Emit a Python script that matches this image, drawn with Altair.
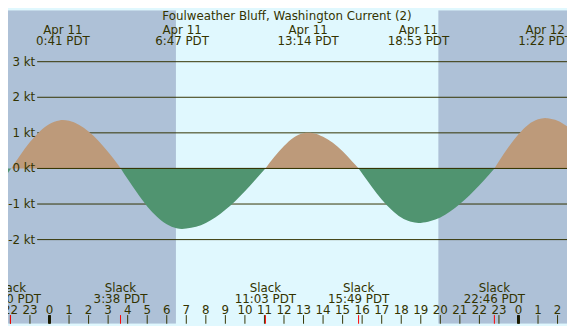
import altair as alt
import pandas as pd

# ---------------- data ----------------
title_text = ["Foulweather Bluff, Washington Current (2)"]

# current speed (kt) at time (hours from Apr 11 00:00 PDT)
hours = [-2.5, -1.96, -1.5, -1, -0.5, 0, 0.5, 0.68, 1, 1.5, 2, 2.5, 3, 3.5, 3.65,
         4, 4.5, 5, 5.5, 6, 6.5, 6.78, 7, 7.5, 8, 8.5, 9, 9.5, 10, 10.5, 11, 11.05,
         11.5, 12, 12.5, 13, 13.23, 13.5, 14, 14.5, 15, 15.5, 15.82,
         16, 16.5, 17, 17.5, 18, 18.5, 18.88, 19, 19.5, 20, 20.5, 21, 21.5, 22, 22.5, 22.77,
         23, 23.5, 24, 24.5, 25, 25.37, 25.5, 26, 26.5, 27]
knots = [-0.40, 0, 0.37, 0.74, 1.04, 1.25, 1.35, 1.36, 1.34, 1.23, 1.04, 0.78, 0.46, 0.11, 0,
         -0.30, -0.70, -1.07, -1.36, -1.57, -1.68, -1.70, -1.69, -1.64, -1.53, -1.37, -1.16, -0.92, -0.64, -0.34, -0.03, 0,
         0.32, 0.63, 0.87, 0.99, 1.00, 0.99, 0.89, 0.72, 0.48, 0.19, 0,
         -0.14, -0.52, -0.87, -1.16, -1.38, -1.50, -1.53, -1.53, -1.48, -1.38, -1.21, -1.00, -0.75, -0.47, -0.17, 0,
         0.20, 0.61, 0.96, 1.23, 1.38, 1.42, 1.41, 1.34, 1.18, 0.98]

# max current events (top labels)
max_times = [0.683, 6.783, 13.233, 18.883, 25.367]
max_dates = ["Apr 11", "Apr 11", "Apr 11", "Apr 11", "Apr 12"]
max_labels = ["0:41 PDT", "6:47 PDT", "13:14 PDT", "18:53 PDT", "1:22 PDT"]

# slack events (bottom labels)
slack_times = [-2.0, 3.633, 11.05, 15.817, 22.767]
slack_labels = ["22:00 PDT", "3:38 PDT", "11:03 PDT", "15:49 PDT", "22:46 PDT"]

# night periods (hours)
night_start = [-6.0, 19.9]
night_end = [6.47, 30.5]

# y grid levels
levels = [-2, -1, 0, 1, 2, 3]
level_labels = ["-2 kt", "-1 kt", "0 kt", "1 kt", "2 kt", "3 kt"]

# hour ticks
hour_ticks = list(range(-2, 27))
hour_labels = [str(h % 24) for h in hour_ticks]

# ---------------- styling ----------------
W, H = 567, 318
SX, SY = W / 575, H / 326
DAY = "#e0f8fe"
NIGHT = "#aec1d7"
FLOOD = "#bd9a7a"
EBB = "#509470"
FG = "#333300"
FONT = "DejaVu Sans"

xs = alt.Scale(domain=[-2.124, 26.483], nice=False, zero=False)
ys = alt.Scale(domain=[-4.365, 4.446], nice=False, zero=False)

# ---------------- tables ----------------
rows = []
lobe = 0
for h, k in zip(hours, knots):
    rows.append({"h": h, "kt": k, "lobe": lobe})
    if k == 0:
        lobe += 1
        rows.append({"h": h, "kt": k, "lobe": lobe})
cur = pd.DataFrame(rows)
sums = cur.groupby("lobe")["kt"].sum()
cur["phase"] = cur["lobe"].map(lambda l: "flood" if sums[l] > 0 else "ebb")
cur["base"] = 0.0

night_df = pd.DataFrame({"s": night_start, "e": night_end})
lev_df = pd.DataFrame({"lv": levels, "lab": level_labels})
hr_df = pd.DataFrame({"h": hour_ticks, "lab": hour_labels, "mid": [h % 24 == 0 for h in hour_ticks]})
max_df = pd.DataFrame({"t": max_times, "d": max_dates, "l": max_labels})
slack_df = pd.DataFrame({"t": slack_times, "l": slack_labels, "w": ["Slack"] * len(slack_times)})
title_df = pd.DataFrame({"t": title_text})

# ---------------- layers ----------------
night = alt.Chart(night_df).mark_rect(color=NIGHT, clip=True).encode(
    x=alt.X("s:Q", scale=xs, axis=None), x2="e:Q",
    y=alt.value(0), y2=alt.value(H))

grid = alt.Chart(lev_df).mark_rule(color=FG, strokeWidth=1).encode(
    y=alt.Y("lv:Q", scale=ys, axis=None),
    x=alt.value(30 * SX), x2=alt.value(W))

area = alt.Chart(cur).mark_area(interpolate="monotone", clip=True).encode(
    x=alt.X("h:Q", scale=xs, axis=None),
    y=alt.Y("kt:Q", scale=ys, axis=None, stack=None),
    y2=alt.Y2("base:Q"),
    color=alt.Color("phase:N", scale=alt.Scale(domain=["flood", "ebb"], range=[FLOOD, EBB]), legend=None),
    detail="lobe:N")

zero_line = alt.Chart(lev_df).transform_filter("datum.lv == 0").mark_rule(color=FG, strokeWidth=1).encode(
    y=alt.Y("lv:Q", scale=ys, axis=None),
    x=alt.value(30 * SX), x2=alt.value(W))

ylabels = alt.Chart(lev_df).mark_text(align="right", baseline="middle", font=FONT, fontSize=12, color=FG).encode(
    y=alt.Y("lv:Q", scale=ys, axis=None), x=alt.value(28 * SX), text="lab:N")

ticks = alt.Chart(hr_df).mark_rule(color=FG, strokeWidth=1).encode(
    x=alt.X("h:Q", scale=xs, axis=None),
    y=alt.value(317 * SY), y2=alt.value(H))

mid_ticks = alt.Chart(hr_df).transform_filter("datum.mid").mark_rule(color="#1a1a00", strokeWidth=3).encode(
    x=alt.X("h:Q", scale=xs, axis=None),
    y=alt.value(317 * SY), y2=alt.value(H))

red_ticks = alt.Chart(slack_df).mark_rule(color="#ff0000", strokeWidth=1).encode(
    x=alt.X("t:Q", scale=xs, axis=None),
    y=alt.value(317 * SY), y2=alt.value(H))

hour_text = alt.Chart(hr_df).mark_text(align="center", baseline="alphabetic", font=FONT, fontSize=12, color=FG).encode(
    x=alt.X("h:Q", scale=xs, axis=None), y=alt.value(315.7 * SY), text="lab:N")

slack_w = alt.Chart(slack_df).mark_text(align="center", baseline="alphabetic", font=FONT, fontSize=12, color=FG).encode(
    x=alt.X("t:Q", scale=xs, axis=None), y=alt.value(292.5 * SY), text="w:N")
slack_t = alt.Chart(slack_df).mark_text(align="center", baseline="alphabetic", font=FONT, fontSize=12, color=FG).encode(
    x=alt.X("t:Q", scale=xs, axis=None), y=alt.value(304.5 * SY), text="l:N")

max_d = alt.Chart(max_df).mark_text(align="center", baseline="alphabetic", font=FONT, fontSize=12, color=FG).encode(
    x=alt.X("t:Q", scale=xs, axis=None), y=alt.value(25 * SY), text="d:N")
max_t = alt.Chart(max_df).mark_text(align="center", baseline="alphabetic", font=FONT, fontSize=12, color=FG).encode(
    x=alt.X("t:Q", scale=xs, axis=None), y=alt.value(36 * SY), text="l:N")

title = alt.Chart(title_df).mark_text(align="center", baseline="alphabetic", font=FONT, fontSize=12, color=FG).encode(
    x=alt.value(287 * SX), y=alt.value(10.5 * SY), text="t:N")

chart = alt.layer(
    night, grid, area, zero_line, ylabels, ticks, mid_ticks, red_ticks,
    hour_text, slack_w, slack_t, max_d, max_t, title
).properties(
    width=W, height=H, autosize="none", padding=0, background=DAY
).configure_view(stroke=None)

chart.save("out.html", embed_options={"renderer": "svg", "actions": False})
